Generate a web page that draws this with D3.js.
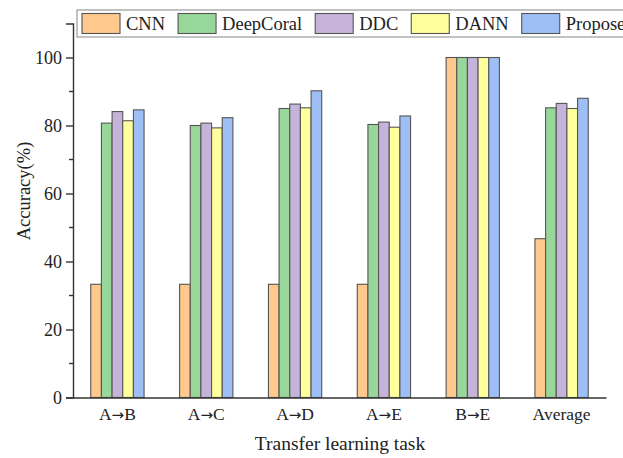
<!DOCTYPE html>
<html>
<head>
<meta charset="utf-8">
<script src="https://cdn.jsdelivr.net/npm/d3@7"></script>
<style>
  body { margin: 0; background: #fff; }
  text { font-family: "Liberation Serif", "Times New Roman", serif; fill: #222; }
</style>
</head>
<body>
<div id="chart"></div>
<script>
  // chart data
  var tasks = ['A\u2192B', 'A\u2192C', 'A\u2192D', 'A\u2192E', 'B\u2192E', 'Average'];
  var methods = ['CNN', 'DeepCoral', 'DDC', 'DANN', 'Proposed'];
  var cnn       = [33.3, 33.3, 33.3, 33.3, 100, 46.7];
  var deepCoral = [80.7, 80.0, 85.0, 80.3, 100, 85.2];
  var ddc       = [84.1, 80.7, 86.3, 81.0, 100, 86.5];
  var dann      = [81.4, 79.3, 85.2, 79.5, 100, 85.0];
  var proposed  = [84.6, 82.3, 90.2, 82.8, 100, 88.0];
  var yTicks = [0, 20, 40, 60, 80, 100];
  var yMinorTicks = [10, 30, 50, 70, 90];

  var series = [cnn, deepCoral, ddc, dann, proposed];
  var colors = ['#ffc88c', '#98d79a', '#c6b3d9', '#ffff9e', '#9dbff5'];

  var width = 623, height = 458;
  var plotLeft = 73, plotRight = 606, plotTop = 23.5, plotBottom = 397.5;

  var svg = d3.select('#chart').append('svg')
    .attr('width', width)
    .attr('height', height);

  var x0 = d3.scaleBand()
    .domain(tasks)
    .range([plotLeft, plotRight])
    .paddingInner(0.4)
    .paddingOuter(0.2);

  var x1 = d3.scaleBand()
    .domain(methods)
    .range([0, x0.bandwidth()]);

  var y = d3.scaleLinear()
    .domain([0, 110])
    .range([plotBottom, plotTop]);

  // bars
  var groups = svg.append('g').selectAll('g')
    .data(tasks)
    .enter()
    .append('g')
    .attr('transform', function (d) { return 'translate(' + x0(d) + ',0)'; });

  groups.selectAll('rect')
    .data(function (d, i) {
      return methods.map(function (m, j) { return { m: m, v: series[j][i], c: colors[j] }; });
    })
    .enter()
    .append('rect')
    .attr('x', function (d) { return x1(d.m); })
    .attr('y', function (d) { return y(d.v); })
    .attr('width', x1.bandwidth())
    .attr('height', function (d) { return y(0) - y(d.v); })
    .attr('fill', function (d) { return d.c; })
    .attr('stroke', '#555')
    .attr('stroke-width', 1.1);

  // y axis
  var yAxis = svg.append('g')
    .attr('transform', 'translate(' + plotLeft + ',0)')
    .call(d3.axisLeft(y).tickValues(yTicks).tickSize(7).tickPadding(4));
  yAxis.select('.domain').attr('stroke', '#333').attr('stroke-width', 1.4);
  yAxis.selectAll('.tick line').attr('stroke', '#333').attr('stroke-width', 1.4);
  yAxis.selectAll('.tick text')
    .style('font-family', '"Liberation Serif", serif')
    .style('font-size', '18px')
    .attr('fill', '#222');

  svg.append('g')
    .selectAll('line')
    .data(yMinorTicks)
    .enter()
    .append('line')
    .attr('x1', plotLeft - 4)
    .attr('x2', plotLeft)
    .attr('y1', function (d) { return y(d); })
    .attr('y2', function (d) { return y(d); })
    .attr('stroke', '#333')
    .attr('stroke-width', 1.4);

  // x axis
  var xAxis = svg.append('g')
    .attr('transform', 'translate(0,' + plotBottom + ')')
    .call(d3.axisBottom(x0).tickSize(0).tickPadding(10));
  xAxis.select('.domain').attr('stroke', '#333').attr('stroke-width', 1.4);
  xAxis.selectAll('.tick text')
    .style('font-family', '"Liberation Serif", serif')
    .style('font-size', '17.5px')
    .attr('fill', '#222')
    .each(function (d) {
      // long arrow glyph like the original
      var parts = d.split('\u2192');
      if (parts.length < 2) return;
      var t = d3.select(this).text(null);
      t.append('tspan').text(parts[0]);
      t.append('tspan').style('font-family', '"DejaVu Sans", sans-serif').style('font-size', '15px').text('\u2192');
      t.append('tspan').text(parts[1]);
    });

  // axis titles
  svg.append('text')
    .attr('x', 340)
    .attr('y', 450)
    .attr('text-anchor', 'middle')
    .style('font-size', '19.5px')
    .text('Transfer learning task');

  svg.append('text')
    .attr('transform', 'translate(30,191) rotate(-90)')
    .attr('text-anchor', 'middle')
    .style('font-size', '18.5px')
    .text('Accuracy(%)');

  // legend
  var legend = svg.append('g');
  legend.append('rect')
    .attr('x', 77)
    .attr('y', 10)
    .attr('width', 560)
    .attr('height', 27)
    .attr('fill', '#fff')
    .attr('stroke', '#999')
    .attr('stroke-width', 1.2);

  var lx = 82;
  methods.forEach(function (m, j) {
    legend.append('rect')
      .attr('x', lx)
      .attr('y', 13.5)
      .attr('width', 38)
      .attr('height', 20)
      .attr('fill', colors[j])
      .attr('stroke', '#555')
      .attr('stroke-width', 1.1);
    var t = legend.append('text')
      .attr('x', lx + 44)
      .attr('y', 30)
      .style('font-size', '18.5px')
      .text(m);
    lx = lx + 44 + t.node().getComputedTextLength() + 13;
  });
</script>
</body>
</html>
